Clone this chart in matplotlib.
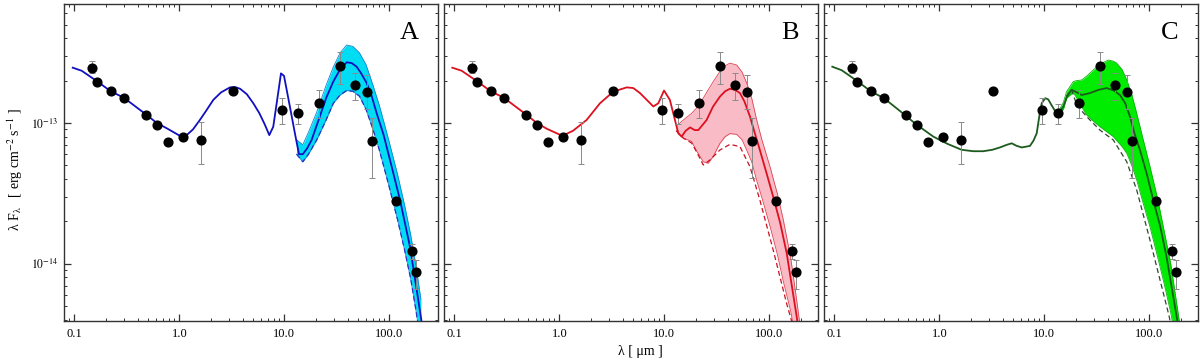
import matplotlib
matplotlib.use("Agg")
from matplotlib import pyplot as plt
from matplotlib.ticker import LogLocator, FixedLocator, FixedFormatter, NullFormatter
import numpy as np

plt.rcParams['font.family'] = ['Liberation Serif', 'DejaVu Serif']
plt.rcParams['mathtext.fontset'] = 'stix'

# photometry (same in every panel)
obs_wl = [0.146, 0.166, 0.222, 0.297, 0.485, 0.609, 0.786, 1.08, 1.62, 3.25,
          9.5, 13.6, 21.5, 33.9, 47.4, 61.3, 68.0, 116, 163, 181]
obs_f = [2.47e-13, 1.97e-13, 1.68e-13, 1.51e-13, 1.14e-13, 9.7e-14, 7.36e-14, 8.0e-14, 7.6e-14, 1.70e-13,
         1.24e-13, 1.17e-13, 1.39e-13, 2.54e-13, 1.87e-13, 1.65e-13, 7.4e-14, 2.79e-14, 1.24e-14, 8.73e-15]
obs_lo = [2.26e-13, 1.97e-13, 1.68e-13, 1.51e-13, 1.14e-13, 9.7e-14, 7.36e-14, 8.0e-14, 5.08e-14, 1.70e-13,
          9.8e-14, 9.9e-14, 1.08e-13, 1.88e-13, 1.46e-13, 1.25e-13, 4.05e-14, 2.6e-14, 1.08e-14, 6.6e-15]
obs_hi = [2.74e-13, 1.97e-13, 1.68e-13, 1.51e-13, 1.14e-13, 9.7e-14, 7.36e-14, 8.0e-14, 1.01e-13, 1.70e-13,
          1.50e-13, 1.36e-13, 1.72e-13, 3.18e-13, 2.28e-13, 2.18e-13, 1.08e-13, 2.97e-14, 1.38e-14, 1.06e-14]

# model A
wl_a = [0.0966, 0.1175, 0.166, 0.222, 0.297, 0.489, 0.61, 0.759, 1.015, 1.175, 1.35, 1.57, 1.8, 2.11, 2.5,
        3.04, 3.4, 3.79, 4.4, 5.07, 5.8, 6.5, 7.2, 7.85, 8.6, 9.3, 9.94, 11.3, 12.6, 13.8, 15.0, 16.5, 18.2,
        21.5, 25, 29.3, 34, 39.3, 44, 48.9, 54, 60.9, 68, 75.9, 88, 101.6, 126.5, 157.5, 189, 210]
f_a = [2.47e-13, 2.35e-13, 1.97e-13, 1.68e-13, 1.51e-13, 1.14e-13, 1.0e-13, 9.17e-14, 8.1e-14, 8.2e-14, 9.0e-14,
       1.05e-13, 1.22e-13, 1.46e-13, 1.65e-13, 1.79e-13, 1.8e-13, 1.75e-13, 1.6e-13, 1.38e-13, 1.17e-13,
       9.8e-14, 8.2e-14, 9.4e-14, 1.5e-13, 2.25e-13, 2.16e-13, 1.31e-13, 8.5e-14, 6.0e-14, 6.0e-14, 6.6e-14,
       7.57e-14, 1.08e-13, 1.5e-13, 1.97e-13, 2.4e-13, 2.70e-13, 2.66e-13, 2.51e-13, 2.25e-13, 1.92e-13,
       1.55e-13, 1.17e-13, 8.3e-14, 5.46e-14, 2.84e-14, 1.32e-14, 5.5e-15, 3.3e-15]
band_wl_a = [13.1, 15, 17, 20.4, 25, 29.3, 34, 39.3, 45, 52, 60, 70, 80, 90, 100, 120, 140, 160, 180, 200]
band_hi_a = [7.6e-14, 7.0e-14, 8.6e-14, 1.2e-13, 1.85e-13, 2.5e-13, 3.15e-13, 3.58e-13, 3.5e-13, 3.15e-13,
             2.6e-13, 1.85e-13, 1.35e-13, 9.8e-14, 7.3e-14, 4.3e-14, 2.6e-14, 1.6e-14, 9.5e-15, 5.6e-15]
band_lo_a = [6.0e-14, 5.3e-14, 6.0e-14, 7.6e-14, 1.05e-13, 1.38e-13, 1.58e-13, 1.7e-13, 1.68e-13, 1.55e-13,
             1.25e-13, 9.0e-14, 6.5e-14, 4.7e-14, 3.5e-14, 2.05e-14, 1.25e-14, 7.8e-15, 4.6e-15, 2.7e-15]
dash_wl_a = band_wl_a
dash_f_a = band_lo_a

# model B
wl_b = [0.0957, 0.1175, 0.166, 0.222, 0.297, 0.489, 0.61, 0.759, 1.07, 1.35, 1.82, 2.44, 3.27, 4.39, 5.07,
        5.87, 6.8, 7.86, 8.77, 9.94, 11.3, 13.6, 14.6, 16.0, 17.6, 19.5, 21.1, 25.3, 29, 33.9, 38, 42.2, 47,
        52.6, 58, 65.5, 72, 81.3, 95, 109, 127, 146.5, 182.5, 200]
f_b = [2.47e-13, 2.35e-13, 1.97e-13, 1.68e-13, 1.51e-13, 1.14e-13, 1.0e-13, 9.1e-14, 8.1e-14, 8.8e-14, 1.05e-13,
       1.38e-13, 1.67e-13, 1.79e-13, 1.77e-13, 1.63e-13, 1.46e-13, 1.31e-13, 1.38e-13, 1.70e-13, 1.46e-13,
       8.45e-14, 8.0e-14, 8.8e-14, 9.3e-14, 8.9e-14, 8.9e-14, 1.05e-13, 1.3e-13, 1.54e-13, 1.68e-13,
       1.75e-13, 1.72e-13, 1.63e-13, 1.42e-13, 1.11e-13, 8.7e-14, 6.43e-14, 4.3e-14, 2.99e-14, 1.95e-14,
       1.19e-14, 4.2e-15, 2.6e-15]
band_wl_b = [13.0, 15.2, 18.2, 20.4, 23.5, 26.2, 29.3, 33.9, 38, 42.2, 48.9, 55, 61, 68, 75.9, 85, 101.6,
             120, 136, 160, 182.5, 200]
band_hi_b = [9.5e-14, 1.05e-13, 1.17e-13, 1.28e-13, 1.5e-13, 1.72e-13, 1.97e-13, 2.32e-13, 2.55e-13, 2.66e-13,
             2.58e-13, 2.3e-13, 1.92e-13, 1.5e-13, 1.05e-13, 7.6e-14, 4.89e-14, 3.1e-14, 2.05e-14, 1.1e-14,
             5.5e-15, 3.3e-15]
band_lo_b = [8.8e-14, 7.8e-14, 7.4e-14, 6.3e-14, 5.3e-14, 5.17e-14, 5.8e-14, 7.17e-14, 8.0e-14, 8.4e-14,
             8.3e-14, 7.6e-14, 6.4e-14, 5.3e-14, 3.9e-14, 2.95e-14, 1.85e-14, 1.15e-14, 7.5e-15, 4.6e-15,
             2.7e-15, 1.9e-15]
dash_wl_b = [13.0, 15.2, 18.2, 20.4, 23.5, 27.2, 33.9, 42.2, 52.6, 65.5, 81.3, 109, 146.5, 162, 200]
dash_f_b = [8.8e-14, 7.8e-14, 7.2e-14, 6.2e-14, 5.03e-14, 5.46e-14, 6.43e-14, 7.05e-14, 6.79e-14, 4.89e-14,
            2.84e-14, 1.25e-14, 5.2e-15, 4.0e-15, 1.8e-15]

# model C
wl_c = [0.0957, 0.1175, 0.166, 0.222, 0.297, 0.42, 0.6, 0.877, 1.2, 1.63, 2.1, 2.62, 3.2, 3.78, 4.4, 4.9,
        5.4, 6.1, 7.3, 7.9, 8.47, 9.1, 9.45, 10.2, 10.9, 12.0, 13.1, 13.6, 15.2, 16.5, 18.2, 20.4, 22.7, 27.2,
        33, 39.3, 46, 52.6, 59, 65.5, 72, 81.5, 95, 109, 127, 146, 182.5, 200]
f_c = [2.51e-13, 2.37e-13, 1.98e-13, 1.68e-13, 1.50e-13, 1.22e-13, 9.8e-14, 8.0e-14, 7.1e-14, 6.45e-14, 6.3e-14,
       6.3e-14, 6.45e-14, 6.7e-14, 7.0e-14, 7.17e-14, 6.9e-14, 6.7e-14, 6.87e-14, 7.5e-14, 8.45e-14, 1.2e-13,
       1.38e-13, 1.50e-13, 1.47e-13, 1.3e-13, 1.17e-13, 1.17e-13, 1.31e-13, 1.55e-13, 1.72e-13, 1.65e-13,
       1.58e-13, 1.63e-13, 1.72e-13, 1.77e-13, 1.7e-13, 1.58e-13, 1.38e-13, 1.11e-13, 8.5e-14, 6.43e-14,
       4.3e-14, 2.84e-14, 1.85e-14, 1.12e-14, 4.2e-15, 2.8e-15]
band_wl_c = [13.6, 15.2, 16.3, 18.9, 20.4, 22.7, 25.3, 29.3, 33.9, 40.7, 45.4, 48.9, 55, 61, 68, 75.9, 85,
             101.6, 120, 136, 160, 182.5, 200]
band_hi_c = [1.2e-13, 1.4e-13, 1.67e-13, 1.97e-13, 2.0e-13, 2.02e-13, 2.15e-13, 2.38e-13, 2.62e-13, 2.8e-13,
             2.75e-13, 2.66e-13, 2.4e-13, 2.02e-13, 1.6e-13, 1.17e-13, 8.3e-14, 4.89e-14, 2.9e-14, 1.83e-14,
             1.0e-14, 5.2e-15, 3.3e-15]
band_lo_c = [1.14e-13, 1.25e-13, 1.5e-13, 1.65e-13, 1.5e-13, 1.3e-13, 1.14e-13, 1.03e-13, 9.4e-14, 8.5e-14,
             8.0e-14, 7.5e-14, 6.8e-14, 6.1e-14, 5.0e-14, 3.94e-14, 2.9e-14, 1.83e-14, 1.12e-14, 7.66e-15,
             4.5e-15, 2.6e-15, 1.9e-15]
dash_wl_c = [16.3, 18.2, 20.4, 25.3, 33.9, 45.4, 61, 75.9, 101.6, 136, 155, 200]
dash_f_c = [1.55e-13, 1.72e-13, 1.34e-13, 1.11e-13, 8.9e-14, 7.57e-14, 5.3e-14, 3.34e-14, 1.47e-14, 6.2e-15,
            4.2e-15, 1.5e-15]

panels = [
    ('A', wl_a, f_a, band_wl_a, band_lo_a, band_hi_a, dash_wl_a, dash_f_a, '#1010c0', '#00dcf4', '#1a80d0', '#3030c0'),
    ('B', wl_b, f_b, band_wl_b, band_lo_b, band_hi_b, dash_wl_b, dash_f_b, '#dd1020', '#f9bcc6', '#e04050', '#cc1020'),
    ('C', wl_c, f_c, band_wl_c, band_lo_c, band_hi_c, dash_wl_c, dash_f_c, '#1d5a1d', '#00ec00', '#10b010', '#2a4a2a'),
]

fig = plt.figure(figsize=(12, 3.6), dpi=100)
lefts = [64.3, 444.3, 824.3]

for i, (lab, wl, fl, bwl, blo, bhi, dwl, dfl, lc, fc, ec, dc) in enumerate(panels):
    ax = fig.add_axes([lefts[i] / 1200, 39 / 360, 374 / 1200, 317 / 360])
    ax.fill_between(bwl, blo, bhi, color=fc, lw=0, zorder=1)
    ax.plot(bwl, blo, color=ec, lw=0.6, zorder=2)
    ax.plot(bwl, bhi, color=ec, lw=0.6, zorder=2)
    ax.plot(dwl, dfl, color=dc, lw=0.9, ls=(0, (4, 2.5)), zorder=3)
    ax.plot(wl, fl, color=lc, lw=1.3, zorder=4)
    f = np.array(obs_f)
    yerr = [f - np.array(obs_lo), np.array(obs_hi) - f]
    ax.errorbar(obs_wl, obs_f, yerr=yerr, fmt='none', ecolor='#8a8a8a', elinewidth=0.7,
                capsize=2, capthick=0.7, zorder=5)
    ax.plot(obs_wl, obs_f, 'o', color='black', ms=6.3, zorder=6)

    ax.set_xscale('log')
    ax.set_yscale('log')
    ax.set_xlim(0.0803, 293)
    ax.set_ylim(3.92e-15, 7.0e-13)

    ax.xaxis.set_major_locator(FixedLocator([0.1, 1, 10, 100]))
    ax.xaxis.set_major_formatter(FixedFormatter(['0.1', '1.0', '10.0', '100.0']))
    ax.xaxis.set_minor_locator(LogLocator(base=10, subs=np.arange(2, 10)))
    ax.xaxis.set_minor_formatter(NullFormatter())
    ax.yaxis.set_major_locator(FixedLocator([1e-14, 1e-13]))
    ax.yaxis.set_minor_locator(LogLocator(base=10, subs=np.arange(2, 10)))
    ax.yaxis.set_minor_formatter(NullFormatter())
    if i == 0:
        ax.yaxis.set_major_formatter(FixedFormatter([r'$10^{-14}$', r'$10^{-13}$']))
    else:
        ax.yaxis.set_major_formatter(NullFormatter())

    ax.tick_params(which='both', direction='in', top=True, right=True, color='#333333')
    ax.tick_params(which='major', length=5, width=0.9, labelsize=9, pad=5)
    ax.tick_params(which='minor', length=2.5, width=0.7)
    ax.tick_params(axis='y', labelsize=8.5, pad=4)
    for s in ax.spines.values():
        s.set_linewidth(1.0)
        s.set_color('#333333')

    ax.text(0.947, 0.909, lab, transform=ax.transAxes, ha='right', va='center', fontsize=19)

fig.text(15 / 1200, 1 - 170 / 360, 'λ F$_{\\mathrm{λ}}$   [ erg cm$^{-2}$ s$^{-1}$ ]',
         rotation=90, ha='center', va='center', fontsize=10)
fig.text(640 / 1200, 1 - 351 / 360, 'λ [ μm ]', ha='center', va='center', fontsize=10)

fig.savefig('out.png', dpi=100)
